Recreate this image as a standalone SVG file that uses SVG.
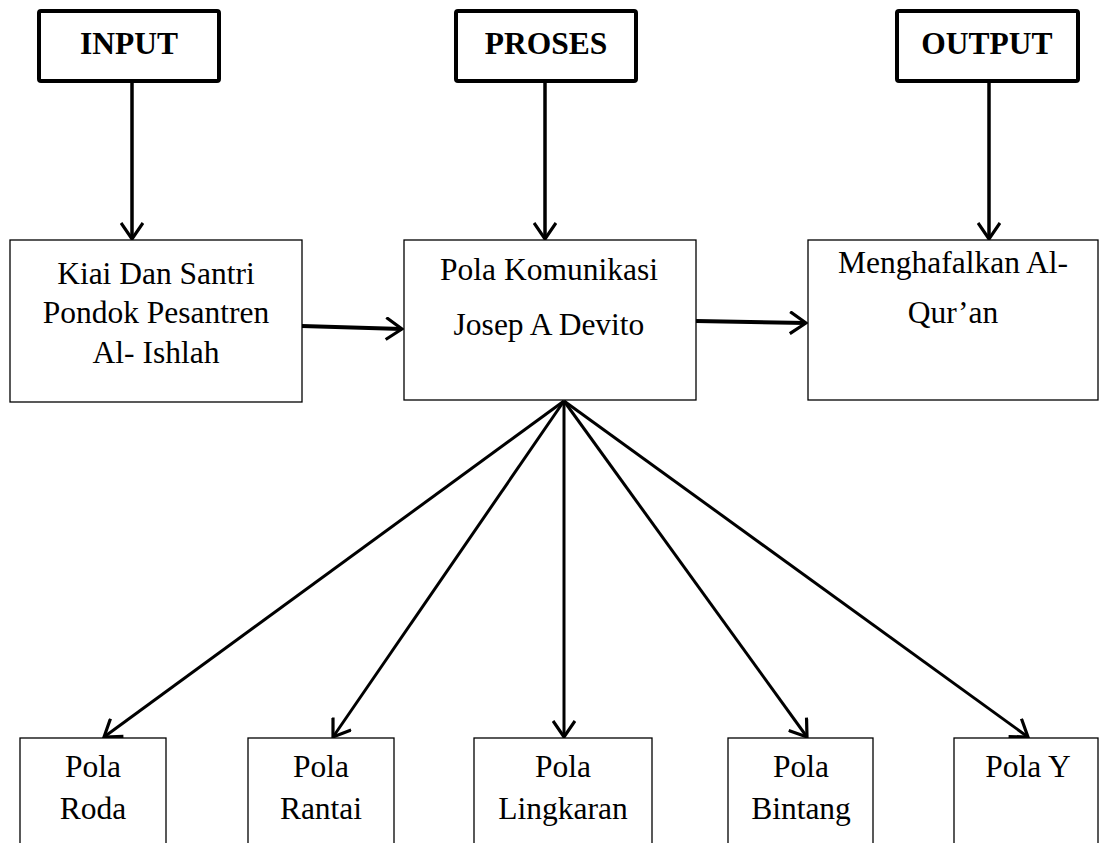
<svg xmlns="http://www.w3.org/2000/svg" width="1100" height="843" viewBox="0 0 1100 843">
  <style>
    .head { fill: #fff; stroke: #000; stroke-width: 4; }
    .box { fill: #fff; stroke: #000; stroke-width: 1.3; }
    .lbl { font-family: "Liberation Serif", "Times New Roman", serif; font-size: 31.5px; fill: #000; text-anchor: middle; }
    .bold { font-weight: bold; font-size: 31.5px; }
    .link { stroke: #000; fill: none; marker-end: url(#arrow); }
  </style>
  <defs>
    <marker id="arrow" viewBox="0 0 20 24" refX="18" refY="12" markerWidth="20" markerHeight="24" markerUnits="userSpaceOnUse" orient="auto">
      <path d="M2,1 L18,12 L2,23" fill="none" stroke="#000" stroke-width="3.2" stroke-linejoin="miter"/>
    </marker>
  </defs>
  <rect width="1100" height="843" fill="#fff"/>

  <!-- connectors -->
  <g id="connectors">
    <line class="link" x1="132" y1="81" x2="132" y2="239" stroke-width="3.5"/>
    <line class="link" x1="545" y1="81" x2="545" y2="239" stroke-width="3.5"/>
    <line class="link" x1="989" y1="81" x2="989" y2="239" stroke-width="3.5"/>
    <line class="link" x1="302" y1="326" x2="402" y2="329" stroke-width="4"/>
    <line class="link" x1="696" y1="321" x2="806" y2="323" stroke-width="4"/>
    <line class="link" x1="564" y1="401" x2="104" y2="737" stroke-width="3"/>
    <line class="link" x1="564" y1="401" x2="333" y2="737" stroke-width="3"/>
    <line class="link" x1="564" y1="401" x2="564" y2="737" stroke-width="3"/>
    <line class="link" x1="564" y1="401" x2="807" y2="737" stroke-width="3"/>
    <line class="link" x1="564" y1="401" x2="1028" y2="737" stroke-width="3"/>
  </g>

  <!-- header labels -->
  <g id="input">
    <rect class="head" x="39" y="11" width="180" height="70" rx="2"/>
    <text class="lbl bold" x="129" y="54">INPUT</text>
  </g>
  <g id="proses">
    <rect class="head" x="456" y="11" width="180" height="70" rx="2"/>
    <text class="lbl bold" x="546" y="54">PROSES</text>
  </g>
  <g id="output">
    <rect class="head" x="897" y="11" width="181" height="70" rx="2"/>
    <text class="lbl bold" x="987" y="54">OUTPUT</text>
  </g>

  <!-- main row -->
  <g id="kiai">
    <rect class="box" x="10" y="240" width="292" height="162"/>
    <text class="lbl" x="156" y="284">Kiai Dan Santri</text>
    <text class="lbl" x="156" y="323">Pondok Pesantren</text>
    <text class="lbl" x="156" y="363">Al- Ishlah</text>
  </g>
  <g id="pola-komunikasi">
    <rect class="box" x="404" y="240" width="292" height="160"/>
    <text class="lbl" x="549" y="280">Pola Komunikasi</text>
    <text class="lbl" x="549" y="335">Josep A Devito</text>
  </g>
  <g id="menghafalkan">
    <rect class="box" x="808" y="240" width="290" height="160"/>
    <text class="lbl" x="953" y="273">Menghafalkan Al-</text>
    <text class="lbl" x="953" y="323">Qur’an</text>
  </g>

  <!-- pattern boxes -->
  <g id="pola-roda">
    <rect class="box" x="20" y="738" width="146" height="120"/>
    <text class="lbl" x="93" y="777">Pola</text>
    <text class="lbl" x="93" y="819">Roda</text>
  </g>
  <g id="pola-rantai">
    <rect class="box" x="248" y="738" width="146" height="120"/>
    <text class="lbl" x="321" y="777">Pola</text>
    <text class="lbl" x="321" y="819">Rantai</text>
  </g>
  <g id="pola-lingkaran">
    <rect class="box" x="474" y="738" width="178" height="120"/>
    <text class="lbl" x="563" y="777">Pola</text>
    <text class="lbl" x="563" y="819">Lingkaran</text>
  </g>
  <g id="pola-bintang">
    <rect class="box" x="728" y="738" width="145" height="120"/>
    <text class="lbl" x="801" y="777">Pola</text>
    <text class="lbl" x="801" y="819">Bintang</text>
  </g>
  <g id="pola-y">
    <rect class="box" x="954" y="738" width="144" height="120"/>
    <text class="lbl" x="1028" y="777">Pola Y</text>
  </g>
</svg>
